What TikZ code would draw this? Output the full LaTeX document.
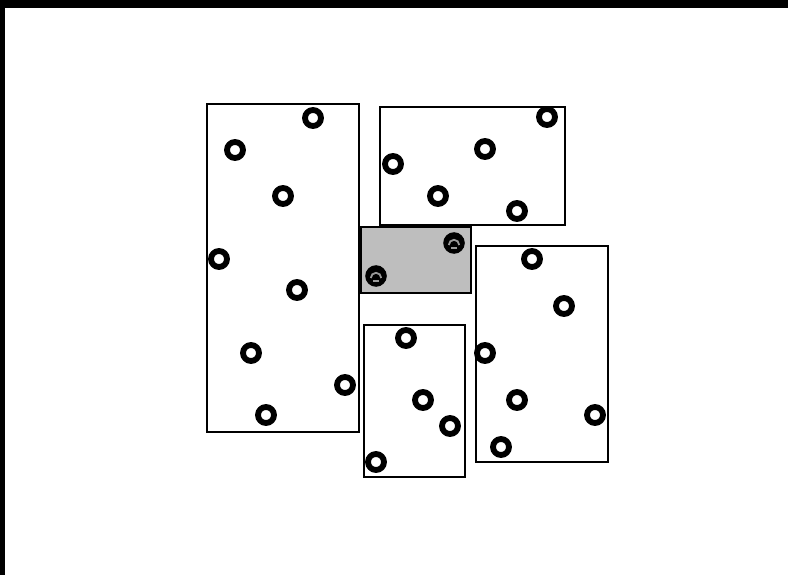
\documentclass[tikz,border=0pt]{standalone}
\usepackage{tikz}
\usetikzlibrary{calc}
\definecolor{panelgray}{HTML}{BEBEBE}
\tikzset{
  frame/.style={draw=black,line width=1.3pt},
  ring/.style={draw=black,line width=5.8pt,fill=white}
}
\newcommand{\ringdot}[2]{\draw[ring] (#1,#2) circle (8);}
\newcommand{\darkdot}[2]{%
  \fill[black] (#1,#2) circle (10.8);
  \draw[gray!80,line width=1.8pt] ($(#1,#2)+(-5.2,2)$) arc[start angle=180,end angle=360,radius=5.2];
  \draw[gray!80,line width=1.8pt] ($(#1,#2)+(-3,5)$) -- ++(6,0);}

\begin{document}
\begin{tikzpicture}[x=1pt,y=-1pt]
\useasboundingbox (0,0) rectangle (788,575);
\fill[black] (0,0) rectangle (788,8);
\fill[black] (0,0) rectangle (5,575);
% panels
\draw[frame] (207,104) rectangle (359,432);
\draw[frame] (380,107) rectangle (565,225);
\draw[frame,fill=panelgray,line width=1.8pt] (361,227) rectangle (471,293);
\draw[frame] (364,325) rectangle (465,477);
\draw[frame] (476,246) rectangle (608,462);
% rings
\foreach \x/\y in {313/118,235/150,283/196,219/259,297/290,251/353,345/385,266/415,
                   547/117,485/149,393/164,438/196,517/211,
                   406/338,423/400,450/426,376/462,
                   532/259,564/306,485/353,517/400,595/415,501/447}
  {\ringdot{\x}{\y}}
\darkdot{454}{243}\darkdot{376}{276}
\end{tikzpicture}
\end{document}
